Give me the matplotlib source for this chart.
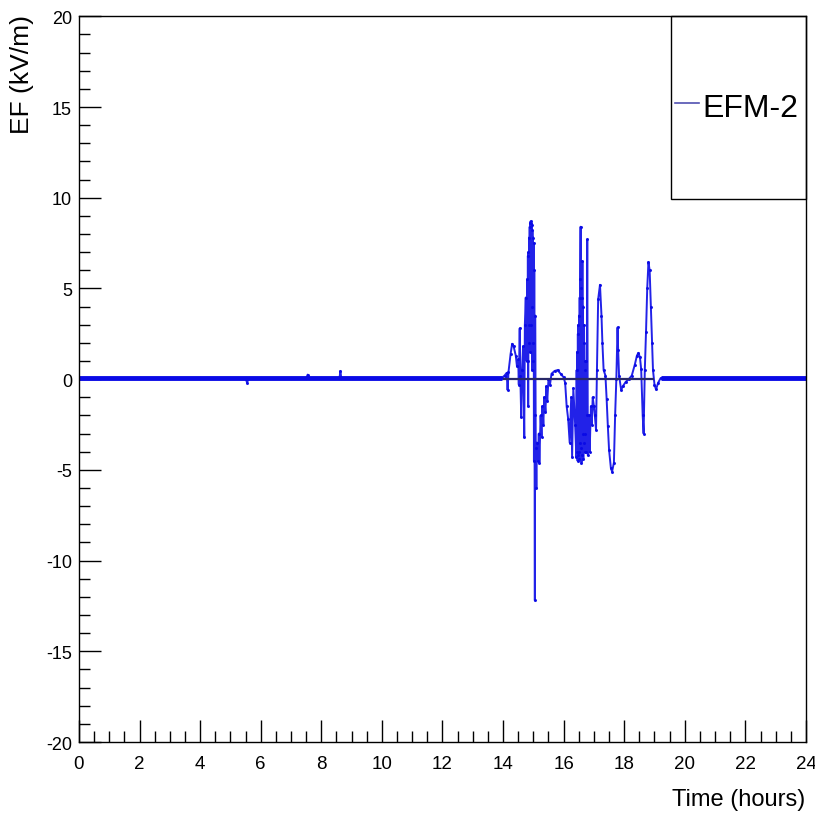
import numpy as np
import matplotlib
matplotlib.use("Agg")
import matplotlib.pyplot as plt
from matplotlib.ticker import MultipleLocator
from matplotlib.patches import Rectangle

plt.rcParams['font.family'] = ['Liberation Sans', 'DejaVu Sans']
plt.rcParams['axes.unicode_minus'] = False

# EFM-2 field mill record (hours, kV/m)
time_h = [0.0, 1.0, 2.0, 3.0, 4.0, 5.0, 5.5, 5.55, 5.6, 6.0, 7.0, 7.5, 7.55, 7.6,
          8.0, 8.6, 8.63, 8.66, 9.0, 10.0, 11.0, 12.0, 13.0, 13.5, 13.95,
          14.05, 14.12, 14.15, 14.18, 14.25, 14.3, 14.35, 14.42, 14.46, 14.5,
          14.52, 14.55, 14.57, 14.6, 14.63, 14.66, 14.7, 14.72, 14.75, 14.78,
          14.80, 14.81, 14.82, 14.83, 14.84, 14.85, 14.86, 14.87, 14.88, 14.89,
          14.90, 14.91, 14.92, 14.93, 14.94, 14.95, 14.96, 14.97, 14.98, 14.99,
          15.00, 15.01, 15.02, 15.03, 15.04, 15.05, 15.06, 15.08, 15.1, 15.12,
          15.15, 15.18, 15.2, 15.24, 15.27, 15.3, 15.33, 15.36, 15.4, 15.43,
          15.46, 15.5, 15.55, 15.6, 15.7, 15.8, 15.9, 16.0, 16.05, 16.1, 16.15,
          16.2, 16.25, 16.28, 16.32, 16.38, 16.42, 16.43, 16.44, 16.45, 16.46,
          16.47, 16.48, 16.49, 16.50, 16.51, 16.52, 16.53, 16.54, 16.55, 16.56,
          16.57, 16.58, 16.59, 16.60, 16.61, 16.62, 16.63, 16.64, 16.65, 16.66,
          16.67, 16.68, 16.69, 16.70, 16.71, 16.72, 16.73, 16.74, 16.76, 16.78,
          16.8, 16.83, 16.86, 16.9, 16.93, 16.96, 17.0,
          17.03, 17.07, 17.1, 17.14, 17.2, 17.25, 17.28, 17.32, 17.38, 17.42,
          17.46, 17.5, 17.56, 17.6, 17.66, 17.7, 17.74, 17.78, 17.8, 17.83,
          17.9, 17.95, 18.05, 18.15, 18.25, 18.35, 18.42, 18.47, 18.52, 18.56,
          18.61, 18.64, 18.68, 18.72, 18.76, 18.8, 18.84, 18.88, 18.92, 18.95,
          19.0, 19.05, 19.12, 19.2, 19.5, 20.0, 21.0, 22.0, 23.0, 24.0]
ef_kvm = [0.05, 0.05, 0.05, 0.05, 0.05, 0.05, 0.05, -0.2, 0.05, 0.05, 0.05, 0.05, 0.25, 0.05,
          0.05, 0.05, 0.45, 0.05, 0.05, 0.05, 0.05, 0.05, 0.05, 0.05, 0.05,
          0.2, 0.35, -0.6, 0.4, 1.4, 1.95, 1.8, 1.3, 0.7, 1.1,
          -0.3, 2.8, 0.2, -2.1, 0.5, 1.8, -3.2, 3.0, 4.5, 1.0,
          5.5, 1.0, 6.8, -1.5, 7.0, 2.0, 7.8, 3.0, 8.4, 1.5,
          8.6, 8.7, 3.0, 8.6, 4.0, 8.5, 0.5, 8.2, 1.0, 7.8,
          2.0, 7.5, -4.5, 6.0, -2.0, -12.2, 3.5, -3.8, -6.0, -3.5,
          -4.5, -3.0, -4.6, -2.0, -3.2, -1.5, -2.5, -1.0, -1.8, -0.4,
          -1.2, 0.0, -0.3, 0.3, 0.45, 0.5, 0.3, 0.1, -0.2, -1.5, -2.2,
          -3.5, -1.0, -4.3, -0.5, -2.5, -4.3, 0.5, -4.0, 1.5, -4.5,
          2.5, -4.2, 3.0, -4.0, 3.5, -4.4, 4.5, -3.5, 5.5, 8.4,
          -3.8, 5.0, -4.6, 4.5, -4.2, 6.5, -3.0, 4.0, -4.4, 3.0,
          -3.5, 2.0, -4.0, 1.0, -3.0, 0.5, -4.0, 1.0, -2.0, 7.7,
          -4.2, -2.0, -4.0, -1.5, -2.5, -1.0, -1.5,
          -2.0, -2.8, 0.5, 4.4, 5.2, 3.5, 2.0, 0.5, 0.2, -1.1,
          -2.6, -3.9, -4.9, -5.1, -4.6, -2.0, 0.0, 2.85, 1.6, 0.2,
          -0.6, -0.4, -0.15, 0.0, 0.2, 0.8, 1.3, 1.45, 1.2, 0.55,
          -2.0, -3.0, 0.5, 2.6, 5.0, 6.45, 6.0, 4.0, 2.0, 0.5,
          -0.3, -0.57, -0.2, 0.05, 0.05, 0.05, 0.05, 0.05, 0.05, 0.05]

series_name = "EFM-2"
x_ticks = [0, 2, 4, 6, 8, 10, 12, 14, 16, 18, 20, 22, 24]
y_ticks = [-20, -15, -10, -5, 0, 5, 10, 15, 20]

t = np.array(time_h)
ef = np.array(ef_kvm)
trace_col = '#0a0ae6'

fig = plt.figure(figsize=(8.15, 8.2), dpi=100)
ax = fig.add_axes([0.0969, 0.0939, 0.892, 0.885])

# quiet periods look like a thick band in the record
quiet_pre = t <= 13.95
quiet_post = t >= 19.2
ax.plot(t[quiet_pre], np.full(quiet_pre.sum(), 0.05), color=trace_col, lw=3.5,
        solid_capstyle='butt')
ax.plot(t[quiet_post], np.full(quiet_post.sum(), 0.05), color=trace_col, lw=3.5,
        solid_capstyle='butt')
ax.plot(t, ef, color=trace_col, lw=1.4, marker='.', ms=2.4, alpha=0.9)

# zero reference through the active period
ax.hlines(0, 14.0, 19.0, color='#282868', lw=1.6, zorder=5)

ax.set_xlim(0, 24)
ax.set_ylim(-20, 20)
ax.set_xticks(x_ticks)
ax.set_yticks(y_ticks)
ax.xaxis.set_minor_locator(MultipleLocator(0.5))
ax.yaxis.set_minor_locator(MultipleLocator(1))
ax.tick_params(which='both', direction='in', top=False, right=False, color='black')
ax.tick_params(which='major', length=16, width=1)
ax.tick_params(which='minor', length=8, width=1)
ax.tick_params(axis='x', labelsize=13.5, pad=9)
ax.tick_params(axis='y', labelsize=13, pad=5)
for s in ax.spines.values():
    s.set_linewidth(1)

fig.text(0.988, 0.0245, "Time (hours)", ha='right', va='center', fontsize=17)
fig.text(0.027, 0.982, "EF (kV/m)", ha='center', va='top', rotation=90, fontsize=19)

# legend box
ax.add_patch(Rectangle((0.814, 0.748), 0.186, 0.252, transform=ax.transAxes,
                       fill=False, edgecolor='black', lw=1, zorder=6, clip_on=False))
ax.plot([0.820, 0.853], [0.880, 0.880], transform=ax.transAxes, color='#5050b0', lw=1.2)
ax.text(0.857, 0.873, series_name, transform=ax.transAxes, ha='left', va='center',
        fontsize=23)

fig.savefig("out.png", dpi=100)
